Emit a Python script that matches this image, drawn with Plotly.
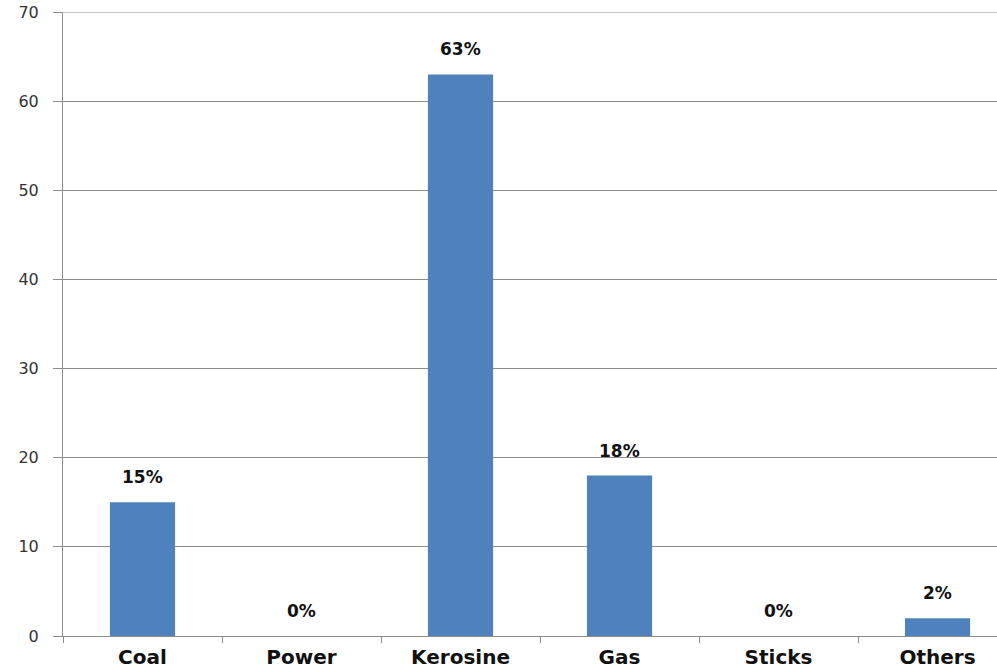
import plotly.graph_objects as go

categories = ["Coal", "Power", "Kerosine", "Gas", "Sticks", "Others"]
values = [15, 0, 63, 18, 0, 2]
labels = ["15%", "0%", "63%", "18%", "0%", "2%"]
y_ticks = [0, 10, 20, 30, 40, 50, 60, 70]

BAR = "#4F81BD"
GRID = "#8c8c8c"

fig = go.Figure()
fig.add_trace(go.Bar(x=categories, y=values, marker=dict(color=BAR, line=dict(width=0)),
                     width=0.41, hoverinfo="skip"))

for c, v, t in zip(categories, values, labels):
    fig.add_annotation(x=c, y=v, text=f"<b>{t}</b>", showarrow=False, yanchor="middle",
                       yshift=25, font=dict(family="DejaVu Sans", size=17, color="#111111"))

# top gridline (plotly drops gridlines lying exactly on the range end)
fig.add_shape(type="line", xref="paper", x0=0, x1=1, yref="y", y0=y_ticks[-1], y1=y_ticks[-1],
              line=dict(color=GRID, width=1), layer="below")

fig.update_layout(
    width=997, height=669,
    margin=dict(l=63, r=0, t=12, b=33),
    paper_bgcolor="white", plot_bgcolor="white",
    showlegend=False,
)
fig.update_xaxes(
    type="category", range=[-0.5, 5.374], automargin=False,
    showline=True, linecolor=GRID, linewidth=1,
    ticks="outside", tickson="boundaries", ticklen=6, tickcolor=GRID,
    showgrid=False,
    tickfont=dict(family="DejaVu Sans", size=20, color="#111111"),
    tickvals=categories, ticktext=[f"<b>{c}</b>" for c in categories],
    ticklabelstandoff=3,
)
fig.update_yaxes(
    range=[0, 70], tickvals=y_ticks, automargin=False,
    showline=True, linecolor=GRID, linewidth=1,
    showgrid=True, gridcolor=GRID, gridwidth=1,
    ticks="outside", ticklen=9, tickcolor=GRID,
    tickfont=dict(family="DejaVu Sans", size=16, color="#333333"),
    ticklabelstandoff=11,
    zeroline=False,
)

fig.write_html("out.html", config={"displayModeBar": False},
               post_script="document.body.style.margin='0';document.body.style.overflow='hidden';")
